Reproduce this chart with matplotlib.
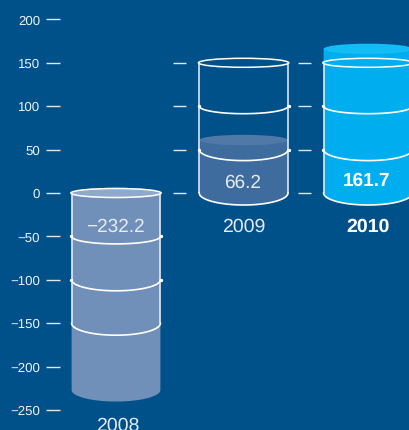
import numpy as np
import matplotlib
matplotlib.use('Agg')
import matplotlib.pyplot as plt
from matplotlib.patches import Ellipse

plt.rcParams['font.family'] = ['Liberation Sans', 'DejaVu Sans']
plt.rcParams['text.hinting'] = 'none'

# chart values
years = ['2008', '2009', '2010']
values = [-232.2, 66.2, 161.7]
value_labels = ['\u2212232.2', '66.2', '161.7']
# where the liquid is drawn in the picture (upper and lower level)
fill_high = [0, 61, 166]
fill_low = [-227, 0, 0]
# barrel outline levels, top to bottom
outline_levels = [[0, -50, -100, -150], [150, 100, 50, 0], [150, 100, 50, 0]]

left_ticks = [200, 150, 100, 50, 0, -50, -100, -150, -200, -250]
left_tick_labels = ['200', '150', '100', '50', '0', '\u221250', '\u2212100', '\u2212150', '\u2212200', '\u2212250']
mid_ticks = [150, 100, 50, 0]

# styling
bg = '#00508a'
body_colors = ['#7090ba', '#3e6c9e', '#00aeef']
top_colors = ['#8fa9cb', '#5079a8', '#14bcf5']
text_colors = ['#e6ecf4', '#e6ecf4', '#ffffff']
weights = ['normal', 'normal', 'bold']
centers = [116, 243.6, 368]
label_y = [-37, 14, 16]
year_y = [-266, -37, -37]
half_w = 44.4
hoop_depth = [7.5, 11, 12]  # px, curve of the 3 lower hoops
px = 0.868  # px per unit

fig = plt.figure(figsize=(4.09, 4.30), dpi=100, facecolor=bg)
ax = fig.add_axes([0, 0, 1, 1])
ax.set_xlim(0, 409)
ax.set_ylim(-(430 - 193) / px, 193 / px)
ax.set_axis_off()

# ticks
ax.hlines(left_ticks, 46, 60, color='#dfe8f0', lw=1)
ax.hlines(mid_ticks, 173, 186, color='#dfe8f0', lw=1)
ax.hlines(mid_ticks, 298, 311, color='#dfe8f0', lw=1)
for t, lab in zip(left_ticks, left_tick_labels):
    ax.text(40, t - 0.5, lab, color='#eef3f8', fontsize=9.5, ha='right', va='center_baseline')


def arc(cx, level, depth):
    # lower half of an ellipse, from left edge to right edge
    a = np.linspace(np.pi, 2 * np.pi, 60)
    return cx + half_w * np.cos(a), level + depth / px * np.sin(a)


for i in range(3):
    cx = centers[i]
    # liquid
    x, y = arc(cx, fill_low[i], 11.5)
    xs = np.concatenate([[cx - half_w], x, [cx + half_w]])
    ys = np.concatenate([[fill_high[i]], y, [fill_high[i]]])
    ax.fill(xs, ys, color=body_colors[i], lw=0, zorder=2)
    ax.add_patch(Ellipse((cx, fill_high[i]), 2 * half_w, 10.5 / px, fc=top_colors[i], ec='none', zorder=3))

    # barrel outline
    lev = outline_levels[i]
    ax.add_patch(Ellipse((cx, lev[0]), 2 * half_w + 1.5, 9 / px, fc='none', ec='white', lw=1.1, zorder=5))
    ax.vlines([cx - half_w, cx + half_w], lev[-1], lev[0], color='#eef3f8', lw=1.1, zorder=5)
    for level, depth in zip(lev[1:], hoop_depth):
        x, y = arc(cx, level, depth)
        ax.plot(x, y, color='white', lw=1.2, zorder=5)
    for level in lev[1:-1]:
        # small bulge of the hoop at the barrel edge
        ax.plot([cx - half_w - 0.5, cx + half_w + 0.5], [level, level], ls='none', marker='o', ms=1.4, color='white', zorder=5)

    # text
    ax.text(cx - 1, label_y[i], value_labels[i], color=text_colors[i], fontsize=13.7, fontweight=weights[i],
            ha='center', va='center_baseline', zorder=6)
    ax.text(cx + (2 if i == 0 else 0), year_y[i], years[i], color=text_colors[i], fontsize=14, fontweight=weights[i],
            ha='center', va='center_baseline', zorder=6)

fig.savefig('out.png', dpi=100, facecolor=bg)
